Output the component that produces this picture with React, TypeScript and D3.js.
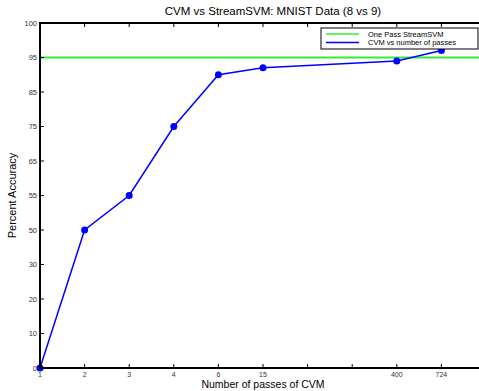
import React, { useEffect, useRef } from "react";
import * as d3 from "d3";

// tick labels (the plot is laid out on an index grid, like the original)
const xTickLabels = ["1", "2", "3", "4", "6", "15", "", "", "400", "724"];
const yTickLabels = [0, 10, 20, 30, 50, 55, 65, 75, 85, 95, 100];

// series
const passes = [1, 2, 3, 4, 6, 15, 400, 724];
const accuracy = [0, 50, 55, 75, 90, 92, 94, 96];
const streamSvmAccuracy = 95;

const W = 479;
const H = 391;

export default function App() {
  const ref = useRef<SVGSVGElement>(null);

  useEffect(() => {
    const svg = d3.select(ref.current);
    svg.selectAll("*").remove();

    const left = 40, right = 486, top = 23, bottom = 368;
    const font = "Liberation Sans, Arial, Helvetica, sans-serif";

    const xScale = d3.scaleLinear().domain([1, 11]).range([left, right]);
    // piecewise scale: each tick label sits on an equal step
    const yScale = d3.scaleLinear()
      .domain(yTickLabels)
      .range(yTickLabels.map((_, i) => bottom - (i * (bottom - top)) / 10));

    const xPos = (p: number) => xScale(xTickLabels.indexOf(String(p)) + 1);

    svg.append("rect").attr("width", W).attr("height", H).attr("fill", "#fff");

    // green reference line
    svg.append("line")
      .attr("x1", left).attr("x2", right)
      .attr("y1", yScale(streamSvmAccuracy)).attr("y2", yScale(streamSvmAccuracy))
      .attr("stroke", "#33ee33").attr("stroke-width", 2);

    // CVM line
    const data = passes.map((p, i) => ({ p, a: accuracy[i] }));
    svg.append("path")
      .datum(data)
      .attr("fill", "none")
      .attr("stroke", "#0000ff")
      .attr("stroke-width", 1.5)
      .attr("d", d3.line<{ p: number; a: number }>().x(d => xPos(d.p)).y(d => yScale(d.a)));

    svg.selectAll("circle.pt")
      .data(data)
      .join("circle")
      .attr("class", "pt")
      .attr("cx", d => xPos(d.p))
      .attr("cy", d => yScale(d.a))
      .attr("r", 3.5)
      .attr("fill", "#0000ff");

    // ticks (inward) and labels
    const tickG = svg.append("g").attr("stroke", "#000").attr("stroke-width", 1);
    xTickLabels.forEach((lab, i) => {
      const x = xScale(i + 1);
      tickG.append("line").attr("x1", x).attr("x2", x).attr("y1", bottom).attr("y2", bottom - 4);
      tickG.append("line").attr("x1", x).attr("x2", x).attr("y1", top).attr("y2", top + 4);
      svg.append("text")
        .attr("x", x).attr("y", bottom + 9)
        .attr("text-anchor", "middle")
        .attr("font-family", font).attr("font-size", 7)
        .attr("fill", "#333")
        .text(lab);
    });
    yTickLabels.forEach(v => {
      const y = yScale(v);
      tickG.append("line").attr("x1", left).attr("x2", left + 4).attr("y1", y).attr("y2", y);
      svg.append("text")
        .attr("x", left - 3).attr("y", y + 2.5)
        .attr("text-anchor", "end")
        .attr("font-family", font).attr("font-size", 7.5)
        .attr("fill", "#333")
        .text(v);
    });

    // axes frame
    svg.append("path")
      .attr("d", `M${right},${top}H${left}V${bottom}H${right}`)
      .attr("fill", "none").attr("stroke", "#000").attr("stroke-width", 2);

    // legend
    const lg = svg.append("g");
    lg.append("rect")
      .attr("x", 321).attr("y", 28).attr("width", 157).attr("height", 21)
      .attr("fill", "#fff").attr("stroke", "#000").attr("stroke-width", 1);
    const items = [
      { label: "One Pass StreamSVM", color: "#33ee33", y: 34 },
      { label: "CVM vs number of passes", color: "#0000ff", y: 42.5 },
    ];
    items.forEach(it => {
      lg.append("line")
        .attr("x1", 326).attr("x2", 359).attr("y1", it.y).attr("y2", it.y)
        .attr("stroke", it.color).attr("stroke-width", 1.5);
      lg.append("text")
        .attr("x", 368).attr("y", it.y + 2.8)
        .attr("font-family", font).attr("font-size", 7.5)
        .attr("fill", "#000")
        .text(it.label);
    });

    // title and axis labels
    svg.append("text")
      .attr("x", 273).attr("y", 15)
      .attr("text-anchor", "middle")
      .attr("font-family", font).attr("font-size", 11.5)
      .text("CVM vs StreamSVM: MNIST Data (8 vs 9)");
    svg.append("text")
      .attr("x", 263).attr("y", 387.5)
      .attr("text-anchor", "middle")
      .attr("font-family", font).attr("font-size", 10.5)
      .text("Number of passes of CVM");
    svg.append("text")
      .attr("transform", `translate(16, ${(top + bottom) / 2}) rotate(-90)`)
      .attr("text-anchor", "middle")
      .attr("font-family", font).attr("font-size", 11)
      .text("Percent Accuracy");
  }, []);

  return (
    <svg
      ref={ref}
      width={W}
      height={H}
      style={{ position: "absolute", left: 0, top: 0, display: "block" }}
    />
  );
}
